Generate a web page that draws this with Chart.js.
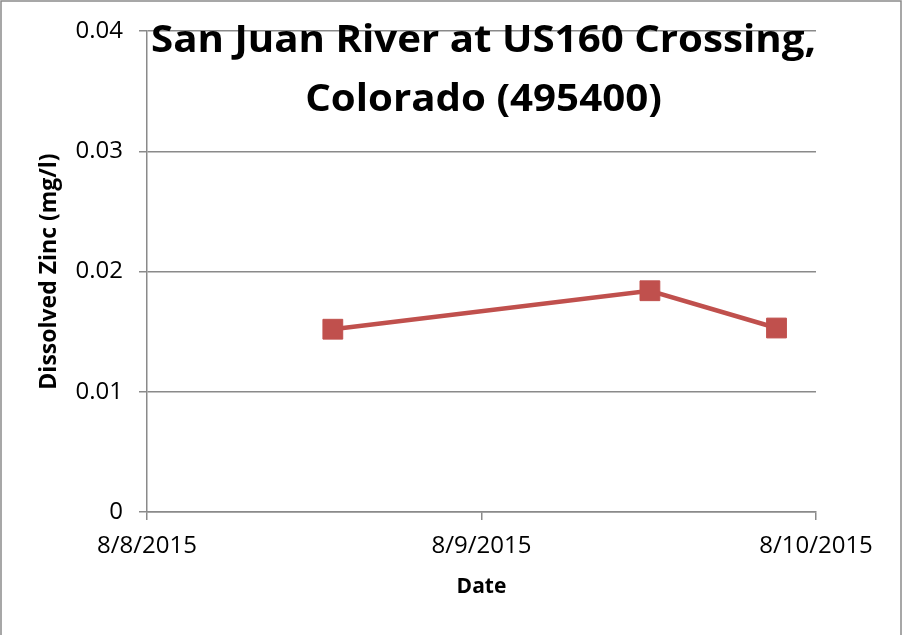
<!DOCTYPE html>
<html>
<head>
<meta charset="utf-8">
<script src="https://cdn.jsdelivr.net/npm/chart.js@4/dist/chart.umd.min.js"></script>
<style>
  body { margin: 0; background: #fff; }
  canvas { display: block; }
</style>
</head>
<body>
<canvas id="zinc-chart" width="903" height="635"></canvas>
<script>
// sample times (UTC) and dissolved zinc, mg/l
const sampleTimes = ["2015-08-08T13:20:00Z", "2015-08-09T12:05:00Z", "2015-08-09T21:10:00Z"];
const zincValues = [0.0152, 0.0184, 0.0153];

const titleLines = ["San Juan River at US160 Crossing,", "Colorado (495400)"];
const xStart = Date.UTC(2015, 7, 8);
const xEnd = Date.UTC(2015, 7, 10);
const dayMs = 86400000;

const lineColor = "#C0504D";
const gridColor = "#8a8a8a";

const points = sampleTimes.map((t, i) => ({ x: Date.parse(t), y: zincValues[i] }));

// Excel style overlay title, drawn on top of the plot area
const overlayTitle = {
  id: "overlayTitle",
  afterDraw(chart) {
    const ctx = chart.ctx;
    const area = chart.chartArea;
    const cx = (area.left + area.right) / 2 + 2;
    ctx.save();
    ctx.fillStyle = "#000";
    ctx.textAlign = "center";
    ctx.textBaseline = "alphabetic";
    ctx.font = "bold 37px 'Open Sans', sans-serif";
    const targetW = 665;
    const w = ctx.measureText(titleLines[0]).width;
    const sx = targetW / w;
    const baselines = [52, 111];
    titleLines.forEach((line, i) => {
      ctx.save();
      ctx.translate(cx, baselines[i]);
      ctx.scale(sx, 1);
      ctx.fillText(line, 0, 0);
      ctx.restore();
    });
    ctx.restore();
  },
};

// thin frame round the chart
const frame = {
  id: "frame",
  afterDraw(chart) {
    const ctx = chart.ctx;
    ctx.save();
    ctx.strokeStyle = "#8a8a8a";
    ctx.lineWidth = 1.5;
    ctx.beginPath();
    ctx.moveTo(1, chart.height);
    ctx.lineTo(1, 1);
    ctx.lineTo(chart.width - 2, 1);
    ctx.lineTo(chart.width - 2, chart.height);
    ctx.stroke();
    ctx.restore();
  },
};

const fmtDate = (v) => {
  const d = new Date(v);
  return (d.getUTCMonth() + 1) + "/" + d.getUTCDate() + "/" + d.getUTCFullYear();
};

new Chart(document.getElementById("zinc-chart"), {
  type: "line",
  data: {
    datasets: [
      {
        label: "Dissolved Zinc",
        data: points,
        borderColor: lineColor,
        backgroundColor: lineColor,
        borderWidth: 4.5,
        pointStyle: "rect",
        pointRadius: 14,
        pointHoverRadius: 14,
        pointBorderWidth: 1,
        tension: 0,
      },
    ],
  },
  options: {
    responsive: false,
    animation: false,
    layout: { padding: { top: 31, right: 87, bottom: 0, left: 0 } },
    plugins: {
      legend: { display: false },
      tooltip: { enabled: false },
      title: { display: false },
    },
    scales: {
      x: {
        type: "linear",
        min: xStart,
        max: xEnd,
        afterFit: (scale) => { scale.height = 123; },
        ticks: {
          stepSize: dayMs,
          color: "#000",
          padding: 12,
          font: { family: "'Open Sans', sans-serif", size: 24 },
          maxRotation: 0,
          callback: (v) => fmtDate(v),
        },
        grid: {
          drawOnChartArea: false,
          color: gridColor,
          lineWidth: 1.5,
          tickLength: 8,
        },
        border: { color: gridColor, width: 1.5 },
        title: {
          display: true,
          text: "Date",
          color: "#000",
          font: { family: "'Open Sans', sans-serif", size: 21, weight: "bold" },
          padding: { top: 0, bottom: 35 },
        },
      },
      y: {
        min: 0,
        max: 0.04,
        afterFit: (scale) => { scale.width = 147; },
        ticks: {
          stepSize: 0.01,
          color: "#000",
          padding: 16,
          font: { family: "'Open Sans', sans-serif", size: 24 },
          callback: (v) => (v === 0 ? "0" : v.toFixed(2)),
        },
        grid: {
          color: gridColor,
          lineWidth: 1.5,
          tickLength: 8,
        },
        border: { color: gridColor, width: 1.5 },
        title: {
          display: true,
          text: "Dissolved Zinc (mg/l)",
          color: "#000",
          font: { family: "'Open Sans', sans-serif", size: 23, weight: "bold" },
          padding: { top: 36, bottom: 0 },
        },
      },
    },
  },
  plugins: [overlayTitle, frame],
});
</script>
</body>
</html>
